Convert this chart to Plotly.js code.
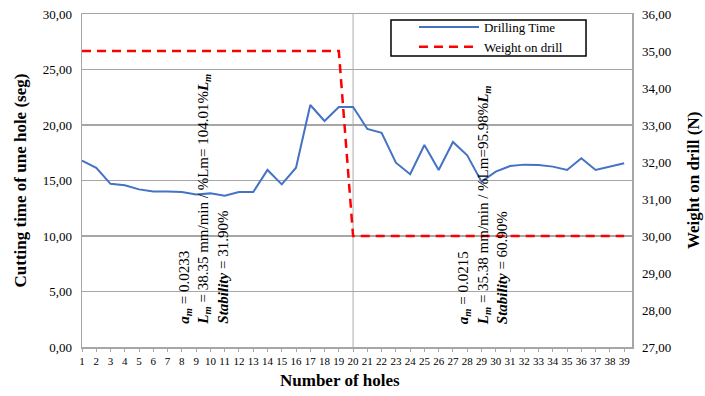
<!DOCTYPE html>
<html>
<head>
<meta charset="utf-8">
<script src="https://cdn.plot.ly/plotly-3.0.1.min.js"></script>
<style>html,body{margin:0;padding:0;background:#fff;}#chart{width:705px;height:396px;}</style>
</head>
<body>
<div id="chart"></div>
<script>
const holes = [1,2,3,4,5,6,7,8,9,10,11,12,13,14,15,16,17,18,19,20,21,22,23,24,25,26,27,28,29,30,31,32,33,34,35,36,37,38,39];
const drillingTime = [16.8,16.15,14.7,14.57,14.2,14.0,14.02,13.96,13.75,13.84,13.63,13.96,13.96,15.95,14.65,16.15,21.8,20.36,21.62,21.62,19.64,19.3,16.6,15.56,18.2,15.95,18.47,17.27,14.9,15.8,16.3,16.43,16.4,16.25,15.95,17.0,15.95,16.25,16.55];
const weightOnDrill = [35,35,35,35,35,35,35,35,35,35,35,35,35,35,35,35,35,35,35,30,30,30,30,30,30,30,30,30,30,30,30,30,30,30,30,30,30,30,30];
const splitHole = 20;
const seriesNames = ["Drilling Time", "Weight on drill"];
const leftTitle = "Cutting time of une hole (seg)";
const rightTitle = "Weight on drill (N)";
const xTitle = "Number of holes";
const note1 = '<b><i>a</i></b><sub><b><i>m</i></b></sub> = 0.0233<br><b><i>L</i></b><sub><b><i>m</i></b></sub> = 38.35 mm/min / %Lm= 104.01%<b><i>L</i></b><sub><b><i>m</i></b></sub><br><b><i>Stability</i></b> = 31.90%';
const note2 = '<b><i>a</i></b><sub><b><i>m</i></b></sub> = 0.0215<br><b><i>L</i></b><sub><b><i>m</i></b></sub> = 35.38 mm/min / %Lm=95.98%<b><i>L</i></b><sub><b><i>m</i></b></sub><br><b><i>Stability</i></b> = 60.90%';

const FONT = "Liberation Serif";
const GRID = "#a6a6a6";

const traces = [
  {x: holes, y: drillingTime, name: seriesNames[0], type: "scatter", mode: "lines",
   line: {color: "#4472C4", width: 2}, yaxis: "y"},
  {x: holes, y: weightOnDrill, name: seriesNames[1], type: "scatter", mode: "lines",
   line: {color: "#FF0000", width: 2.5, dash: "9px,6px"}, yaxis: "y2"}
];

const layout = {
  width: 705, height: 396,
  margin: {l: 82, r: 73, t: 14, b: 49},
  paper_bgcolor: "#fff", plot_bgcolor: "#fff",
  separators: ", ",
  font: {family: FONT, color: "#000", size: 13},
  showlegend: true,
  legend: {x: 0.6036, y: 1.006, xanchor: "left", yanchor: "top",
    borderwidth: 0, bgcolor: "rgba(0,0,0,0)",
    font: {family: FONT, size: 13, color: "#000"}, itemwidth: 60,
    tracegroupgap: 0},
  xaxis: {type: "linear", range: [1, 39.55], tickvals: holes, ticktext: holes.map(String),
    tickfont: {family: FONT, size: 11, color: "#000"}, showgrid: false, zeroline: false,
    showline: true, linecolor: GRID, linewidth: 1.5, mirror: true,
    ticks: "outside", ticklen: 3, tickcolor: GRID},
  yaxis: {range: [0, 30], dtick: 5, tickformat: ".2f", tickfont: {family: FONT, size: 13, color: "#000"},
    showgrid: true, gridcolor: GRID, gridwidth: 1.5, zeroline: false,
    showline: true, linecolor: GRID, linewidth: 1.5, ticks: "", ticklabelstandoff: 6},
  yaxis2: {range: [27, 36], dtick: 1, tickformat: ".2f", overlaying: "y", side: "right",
    tickfont: {family: FONT, size: 13, color: "#000"}, showgrid: false, zeroline: false,
    showline: true, linecolor: GRID, linewidth: 1.5, ticks: "", ticklabelstandoff: 6},
  shapes: [
    {type: "line", xref: "x", yref: "paper", x0: splitHole, x1: splitHole, y0: 0, y1: 1,
     line: {color: "#c8c8c8", width: 1.5}, layer: "below"},
    {type: "rect", xref: "paper", yref: "paper", x0: 0.5618, x1: 0.9164, y0: 0.8739, y1: 0.982,
     line: {color: "#000", width: 1.5}, fillcolor: "#fff", layer: "above"}
  ],
  annotations: [
    {text: note1, xref: "x", yref: "y", x: 9.49, y: 1.8, xanchor: "center", yanchor: "bottom",
     textangle: -90, align: "left", showarrow: false, font: {family: FONT, size: 15, color: "#000"}},
    {text: note2, xref: "x", yref: "y", x: 29.05, y: 1.8, xanchor: "center", yanchor: "bottom",
     textangle: -90, align: "left", showarrow: false, font: {family: FONT, size: 15, color: "#000"}},
    {text: "<b>" + xTitle + "</b>", xref: "paper", yref: "paper", x: 0.469, y: -0.102,
     xanchor: "center", yanchor: "middle", showarrow: false, font: {family: FONT, size: 17, color: "#000"}},
    {text: "<b>" + leftTitle + "</b>", xref: "paper", yref: "paper", x: -0.1127, y: 0.5,
     xanchor: "center", yanchor: "middle", textangle: -90, showarrow: false, font: {family: FONT, size: 17, color: "#000"}},
    {text: "<b>" + rightTitle + "</b>", xref: "paper", yref: "paper", x: 1.1118, y: 0.5,
     xanchor: "center", yanchor: "middle", textangle: -90, showarrow: false, font: {family: FONT, size: 17, color: "#000"}}
  ]
};

Plotly.newPlot("chart", traces, layout, {staticPlot: true, displayModeBar: false});
</script>
</body>
</html>
